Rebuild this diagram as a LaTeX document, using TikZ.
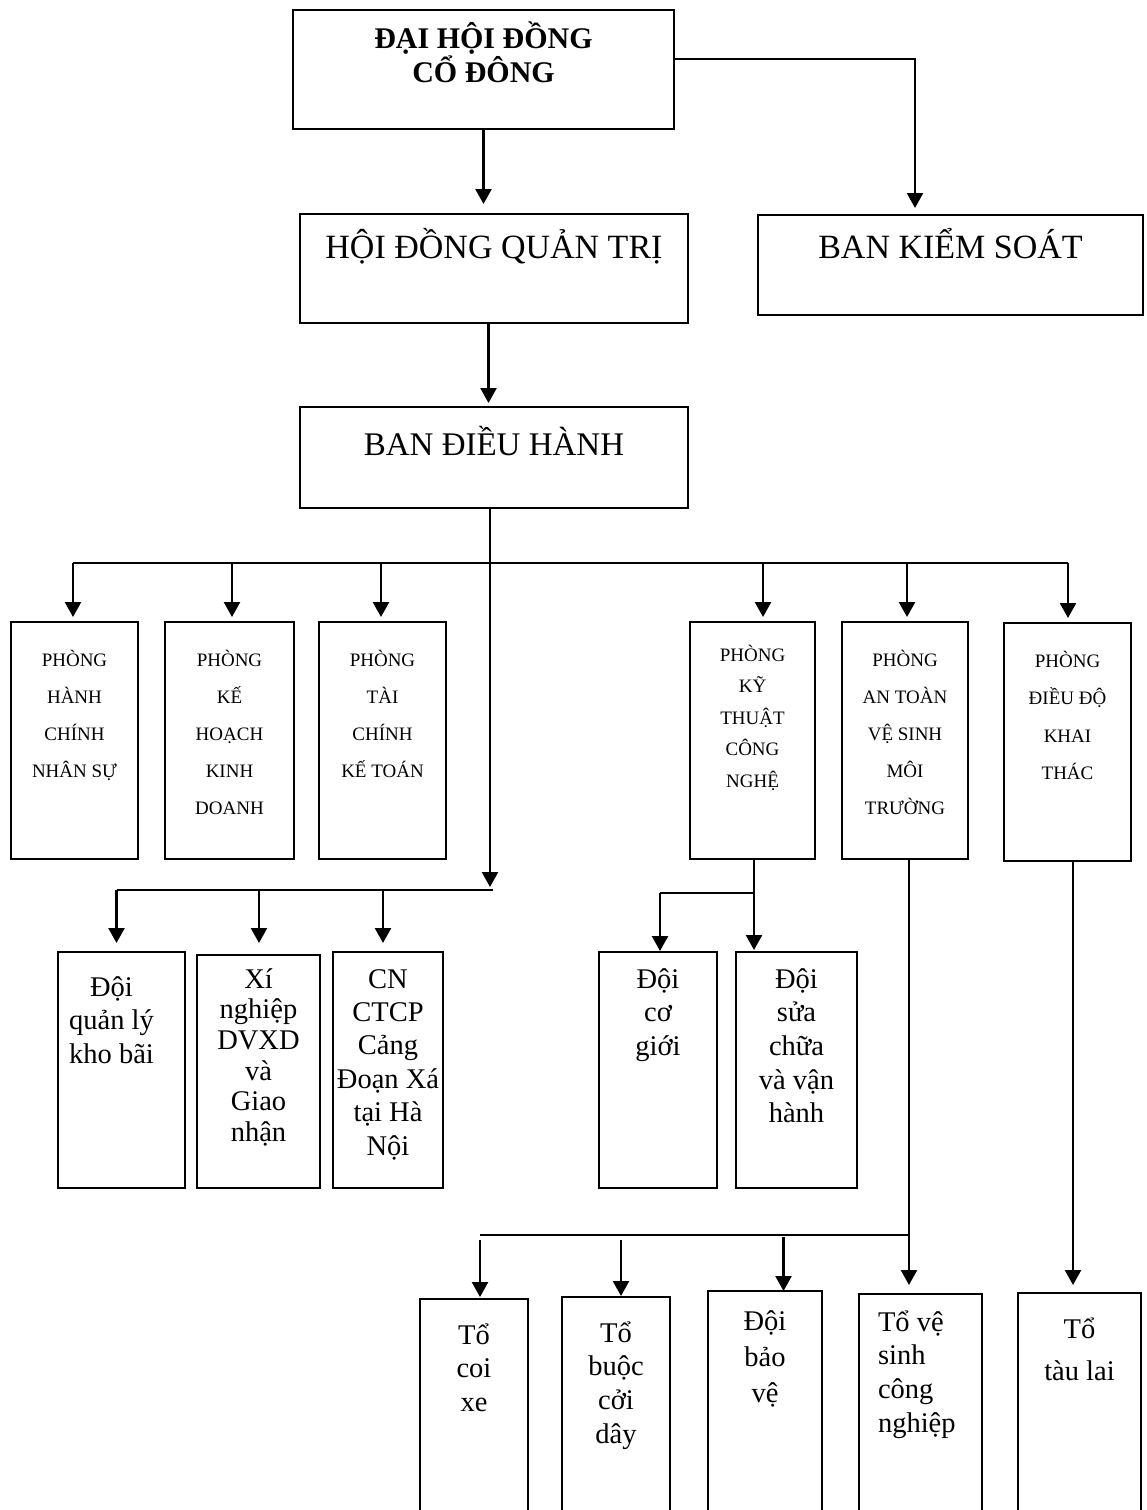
\documentclass[tikz,border=0pt]{standalone}
\usepackage{fontspec}
\setmainfont{Liberation Serif}
\usetikzlibrary{arrows.meta,calc}
\newcommand{\mybt}[6]{\parbox[c][#2][t]{#1}{\centering\fontsize{#3}{#4}\selectfont\lineskiplimit=-\maxdimen\lineskip=0pt\rule{0pt}{#5}#6\par}}
\tikzset{
  box/.style={draw, line width=1.9pt, inner sep=0pt, outer sep=0pt, anchor=north west},
  line/.style={line width=2.4pt},
  arr/.style={line width=2.4pt, -{Triangle[length=15pt,width=16pt]}}
}
\begin{document}
\begin{tikzpicture}[x=1pt,y=-1pt]
\useasboundingbox (0,0) rectangle (1146,1510);
\fill[white] (0,0) rectangle (1146,1510);
\clip (0,0) rectangle (1146,1510);

% top levels
\node[box] (dhd) at (293,10) {\mybt{381pt}{119pt}{30pt}{34pt}{38pt}{\bfseries ĐẠI HỘI ĐỒNG\\CỔ ĐÔNG}};
\node[box] (hdqt) at (300,214) {\mybt{388pt}{109pt}{34pt}{40pt}{44pt}{HỘI ĐỒNG QUẢN TRỊ}};
\node[box] (bks) at (758,215) {\mybt{385pt}{100pt}{34pt}{40pt}{43pt}{BAN KIỂM SOÁT}};
\node[box] (bdh) at (300,407) {\mybt{388pt}{101pt}{33pt}{40pt}{48pt}{BAN ĐIỀU HÀNH}};

% departments
\node[box] (p1) at (11,622) {\mybt{127pt}{237pt}{19pt}{37pt}{44pt}{PHÒNG\\HÀNH\\CHÍNH\\NHÂN SỰ}};
\node[box] (p2) at (165,622) {\mybt{129pt}{237pt}{19pt}{37pt}{44pt}{PHÒNG\\KẾ\\HOẠCH\\KINH\\DOANH}};
\node[box] (p3) at (319,622) {\mybt{127pt}{237pt}{19pt}{37pt}{44pt}{PHÒNG\\TÀI\\CHÍNH\\KẾ TOÁN}};
\node[box] (p4) at (690,622) {\mybt{125pt}{237pt}{19pt}{31.6pt}{39pt}{PHÒNG\\KỸ\\THUẬT\\CÔNG\\NGHỆ}};
\node[box] (p5) at (842,622) {\mybt{126pt}{237pt}{19pt}{37pt}{44pt}{PHÒNG\\AN TOÀN\\VỆ SINH\\MÔI\\TRƯỜNG}};
\node[box] (p6) at (1004,623) {\mybt{127pt}{238pt}{19pt}{37.5pt}{44pt}{PHÒNG\\ĐIỀU ĐỘ\\KHAI\\THÁC}};

% lower-left units
\node[box] (dq) at (58,952) {\mybt{127pt}{236pt}{28.5pt}{33.5pt}{44pt}{\rightskip=20pt plus 1fil Đội\\quản lý\\kho bãi}};
\node[box] (xn) at (197,955) {\mybt{123pt}{233pt}{28.5pt}{30.7pt}{33pt}{Xí\\nghiệp\\DVXD\\và\\Giao\\nhận}};
\node[box] (cn) at (333,952) {\mybt{110pt}{236pt}{28.5pt}{33.4pt}{36pt}{CN\\CTCP\\Cảng\\Đoạn Xá\\tại Hà\\Nội}};

% technical units
\node[box] (dcg) at (599,952) {\mybt{118pt}{236pt}{28.5pt}{33.5pt}{36pt}{Đội\\cơ\\giới}};
\node[box] (dsc) at (736,952) {\mybt{121pt}{236pt}{28.5pt}{33.7pt}{36pt}{Đội\\sửa\\chữa\\và vận\\hành}};

% bottom row
\node[box] (tcx) at (420,1299) {\mybt{108pt}{231pt}{28.5pt}{33.8pt}{45pt}{Tổ\\coi\\xe}};
\node[box] (tbc) at (562,1297) {\mybt{108pt}{233pt}{28.5pt}{33.7pt}{45pt}{Tổ\\buộc\\cởi\\dây}};
\node[box] (dbv) at (708,1291) {\mybt{114pt}{239pt}{28.5pt}{36.4pt}{39pt}{Đội\\bảo\\vệ}};
\node[box] (tvs) at (859,1294) {\mybt{123pt}{236pt}{28.5pt}{33.7pt}{37pt}{\leftskip=19pt \rightskip=0pt plus 1fil Tổ vệ\\sinh\\công\\nghiệp}};
\node[box] (ttl) at (1018,1293) {\mybt{123pt}{237pt}{28.5pt}{42.3pt}{45pt}{Tổ\\tàu lai}};

% connectors: top
\coordinate (c1) at (915,59);
\draw[arr, shorten >=7pt] (dhd.east |- c1) -- (c1) -- (c1 |- bks.north);
\draw[arr, shorten >=10pt] (dhd.south) -- (dhd.south |- hdqt.north);
\draw[arr, shorten >=4pt] ([xshift=-5.5pt]hdqt.south) -- ([xshift=-5.5pt]hdqt.south |- bdh.north);

% department bus
\coordinate (bus) at (0,563);
\draw[line] ([xshift=-1.5pt]p1.north |- bus) -- ([xshift=0.5pt]p6.north |- bus);
\foreach \n/\s in {p1/-1.5,p2/2.5,p3/-1.5,p4/10.5,p5/2,p6/0.5}
  \draw[arr, shorten >=5pt] ([xshift=\s pt]\n.north |- bus) -- ([xshift=\s pt]\n.north);

% main vertical from ban dieu hanh to lower-left units
\coordinate (j1) at (490,890);
\draw[arr, shorten >=3pt] ([xshift=-4pt]bdh.south) -- (j1);
\draw[line] ([xshift=-5pt]dq.north |- j1) -- ([xshift=3pt]j1);
\draw[arr, shorten >=9pt] ([xshift=-5pt]dq.north |- j1) -- ([xshift=-5pt]dq.north);
\draw[arr, shorten >=12pt] ([xshift=0.5pt]xn.north |- j1) -- ([xshift=0.5pt]xn.north);
\draw[arr, shorten >=9pt] ([xshift=-5pt]cn.north |- j1) -- ([xshift=-5pt]cn.north);

% technical branch
\coordinate (j2) at (754,893);
\draw[arr, shorten >=2pt] (p4.south -| j2) -- (j2 |- dsc.north);
\draw[line] (j2) -- ([xshift=2pt]dcg.north |- j2);
\draw[arr, shorten >=1pt] ([xshift=2pt]dcg.north |- j2) -- ([xshift=2pt]dcg.north);

% safety/environment branch
\coordinate (j3) at (909,1235);
\draw[arr, shorten >=9pt] (p5.south -| j3) -- (j3 |- tvs.north);
\draw[line] (j3) -- ([xshift=6pt]tcx.north |- j3);
\draw[arr, shorten <=5pt, shorten >=2pt] ([xshift=6pt]tcx.north |- j3) -- ([xshift=6pt]tcx.north);
\draw[arr, shorten <=5pt, shorten >=1pt] ([xshift=5pt]tbc.north |- j3) -- ([xshift=5pt]tbc.north);
\draw[arr, shorten <=2pt] ([xshift=18.5pt]dbv.north |- j3) -- ([xshift=18.5pt]dbv.north);

% dispatch branch
\draw[arr, shorten >=8pt] ([xshift=5.5pt]p6.south) -- ([xshift=5.5pt]p6.south |- ttl.north);
\end{tikzpicture}
\end{document}
